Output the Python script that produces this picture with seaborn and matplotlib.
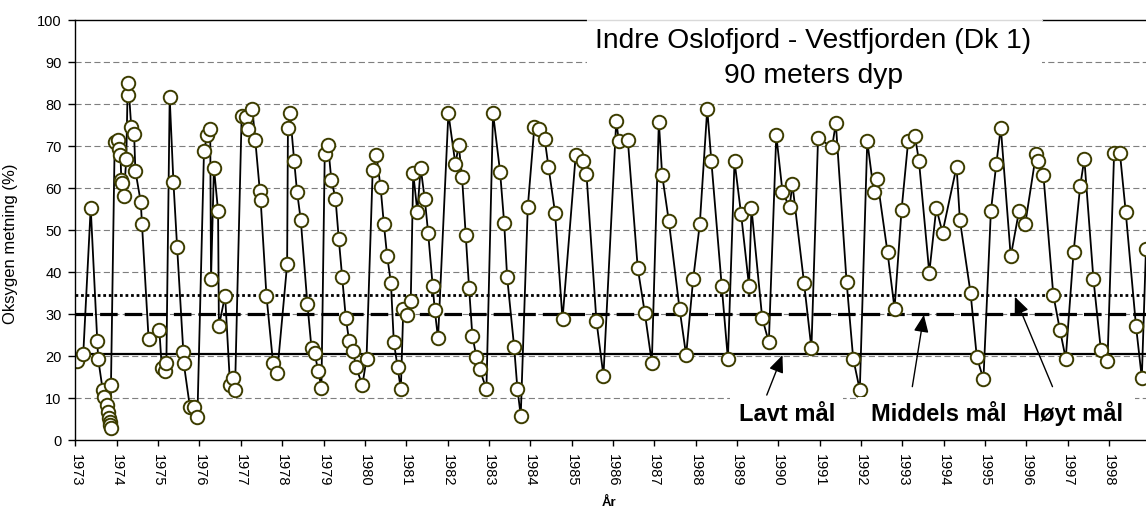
import matplotlib
matplotlib.use("Agg")
import matplotlib.pyplot as plt
import seaborn as sns
from matplotlib.patches import Rectangle

sns.set_style("white")
plt.rcParams['font.family'] = ['Liberation Sans', 'DejaVu Sans']
# plain black text like the original
plt.rcParams['text.color'] = 'black'
plt.rcParams['xtick.color'] = 'black'
plt.rcParams['ytick.color'] = 'black'
plt.rcParams['axes.labelcolor'] = 'black'

# sampling dates (decimal years) and oxygen saturation (%)
years = [
    1973.03, 1973.19, 1973.37, 1973.53, 1973.55, 1973.66, 1973.70, 1973.76, 1973.79, 1973.81,
    1973.83, 1973.84, 1973.85, 1973.86, 1973.95, 1974.02, 1974.05, 1974.09, 1974.11, 1974.13,
    1974.17, 1974.23, 1974.26, 1974.28, 1974.35, 1974.42, 1974.45, 1974.58, 1974.61, 1974.77,
    1975.03, 1975.09, 1975.17, 1975.20, 1975.28, 1975.37, 1975.46, 1975.61, 1975.62, 1975.77,
    1975.86, 1975.95, 1976.11, 1976.19, 1976.26, 1976.28, 1976.35, 1976.45, 1976.47, 1976.62,
    1976.74, 1976.82, 1976.86, 1977.02, 1977.12, 1977.18, 1977.28, 1977.35, 1977.46, 1977.48,
    1977.62, 1977.78, 1977.88, 1978.12, 1978.14, 1978.19, 1978.29, 1978.36, 1978.45, 1978.61,
    1978.71, 1978.79, 1978.87, 1978.95, 1979.03, 1979.11, 1979.19, 1979.29, 1979.37, 1979.45,
    1979.54, 1979.62, 1979.72, 1979.78, 1979.94, 1980.04, 1980.19, 1980.28, 1980.38, 1980.46,
    1980.54, 1980.63, 1980.70, 1980.79, 1980.87, 1980.93, 1981.02, 1981.11, 1981.17, 1981.27,
    1981.35, 1981.45, 1981.53, 1981.64, 1981.69, 1981.77, 1982.02, 1982.19, 1982.27, 1982.35,
    1982.44, 1982.52, 1982.60, 1982.70, 1982.78, 1982.94, 1983.10, 1983.27, 1983.37, 1983.44,
    1983.61, 1983.69, 1983.77, 1983.94, 1984.10, 1984.20, 1984.35, 1984.44, 1984.60, 1984.78,
    1985.10, 1985.27, 1985.36, 1985.60, 1985.77, 1986.08, 1986.14, 1986.36, 1986.60, 1986.77,
    1986.94, 1987.11, 1987.19, 1987.35, 1987.61, 1987.77, 1987.94, 1988.10, 1988.28, 1988.38,
    1988.63, 1988.78, 1988.94, 1989.10, 1989.29, 1989.35, 1989.61, 1989.77, 1989.95, 1990.10,
    1990.27, 1990.34, 1990.62, 1990.80, 1990.96, 1991.30, 1991.39, 1991.65, 1991.81, 1991.97,
    1992.15, 1992.31, 1992.39, 1992.64, 1992.81, 1992.98, 1993.14, 1993.30, 1993.40, 1993.65,
    1993.82, 1993.97, 1994.31, 1994.39, 1994.65, 1994.80, 1994.96, 1995.14, 1995.27, 1995.38,
    1995.62, 1995.82, 1995.97, 1996.23, 1996.27, 1996.41, 1996.65, 1996.81, 1996.95, 1997.14,
    1997.30, 1997.40, 1997.62, 1997.80, 1997.96, 1998.12, 1998.26, 1998.40, 1998.65, 1998.79,
    1998.89,
]
oxygen = [
    18.8, 20.5, 55.3, 23.5, 19.4, 11.9, 10.3, 8.3, 6.7, 5.2,
    4.3, 3.6, 2.8, 13.1, 71.0, 71.4, 69.4, 67.9, 61.9, 61.1,
    58.1, 66.8, 82.1, 84.9, 74.6, 72.8, 64.1, 56.7, 51.4, 24.1,
    26.2, 17.1, 16.4, 18.4, 81.6, 61.5, 45.9, 21.0, 18.3, 7.8,
    7.8, 5.4, 68.9, 72.6, 74.0, 38.3, 64.8, 54.6, 27.1, 34.4,
    13.1, 14.8, 11.9, 77.1, 76.8, 74.0, 78.7, 71.4, 59.4, 57.1,
    34.4, 18.3, 16.0, 41.8, 74.4, 77.9, 66.5, 59.1, 52.4, 32.4,
    21.8, 20.6, 16.4, 12.5, 68.0, 70.2, 61.9, 57.5, 47.8, 38.9,
    29.0, 23.6, 21.2, 17.5, 13.1, 19.3, 64.4, 67.9, 60.2, 51.4,
    43.7, 37.5, 23.4, 17.5, 12.1, 31.3, 29.8, 33.1, 63.5, 54.4,
    64.8, 57.3, 49.4, 36.7, 31.0, 24.2, 77.8, 65.7, 70.2, 62.7,
    48.8, 36.3, 24.8, 19.7, 16.8, 12.1, 77.8, 63.9, 51.6, 38.9,
    22.2, 12.1, 5.8, 55.4, 74.6, 74.0, 71.6, 65.1, 54.1, 28.7,
    67.9, 66.5, 63.3, 28.4, 15.3, 76.0, 71.3, 71.4, 40.9, 30.3,
    18.4, 75.8, 63.1, 52.2, 31.3, 20.2, 38.3, 51.4, 78.8, 66.4,
    36.7, 19.3, 66.4, 53.7, 36.7, 55.2, 29.0, 23.3, 72.6, 59.1,
    55.4, 60.9, 37.5, 21.8, 71.8, 69.8, 75.4, 37.7, 19.4, 11.9,
    71.2, 59.0, 62.2, 44.7, 31.3, 54.8, 71.2, 72.5, 66.5, 39.8,
    55.2, 49.4, 65.1, 52.4, 34.9, 19.7, 14.5, 54.5, 65.6, 74.4,
    43.7, 54.5, 51.4, 68.0, 66.4, 63.1, 34.5, 26.2, 19.4, 44.7,
    60.5, 66.9, 38.3, 21.4, 18.8, 68.3, 68.4, 54.4, 27.1, 14.8,
    45.4,
]

# target levels (low / middle / high)
goal_names = ["Lavt mål", "Middels mål", "Høyt mål"]
goal_values = [20.5, 30, 34.5]

year_ticks = list(range(1973, 1999))
y_ticks = list(range(0, 101, 10))

fig = plt.figure(figsize=(11.46, 5.13), dpi=100)
ax = fig.add_axes([0.0658, 0.1423, 0.9742, 0.8187])

# dashed horizontal grid
for v in y_ticks[1:-1]:
    ax.axhline(v, color="#7f7f7f", lw=0.8, ls=(0, (5.5, 3)), zorder=1)

# goal lines
ax.axhline(goal_values[0], color="black", lw=1.6, ls="-", zorder=1.5)
ax.axhline(goal_values[1], color="black", lw=2.3, ls=(0, (5.5, 2.2)), zorder=1.5)
ax.axhline(goal_values[2], color="black", lw=2.0, ls=(0, (1, 1)), zorder=1.5)

sns.lineplot(x=years, y=oxygen, estimator=None, sort=False, ax=ax,
             color="black", lw=1.3, marker="o", markersize=9.7,
             markerfacecolor="white", markeredgecolor="#3d3d00",
             markeredgewidth=1.4, zorder=2)

ax.set_xlim(1973, 2000)
ax.set_ylim(0, 100)
ax.set_xticks(year_ticks)
ax.set_xticklabels([str(y) for y in year_ticks], rotation=-90, fontsize=10.5)
ax.set_yticks(y_ticks)
ax.set_yticklabels([str(v) for v in y_ticks], fontsize=10.5)
ax.tick_params(axis="x", direction="out", length=4, width=1, pad=6, bottom=True)
ax.tick_params(axis="y", direction="out", length=5, width=1, pad=5, left=True)
for s in ["left", "bottom", "top"]:
    ax.spines[s].set_color("black")
    ax.spines[s].set_linewidth(1)
ax.set_xlabel("")
ax.set_ylabel("")

fig.text(11 / 1146, 1 - 244 / 513, "Oksygen metning (%)", rotation=90,
         ha="center", va="center", fontsize=12)
fig.text(609 / 1146, 1 - 503 / 513, "År", ha="center", va="center",
         fontsize=9.5, fontweight="bold")

# title box covering part of top
ax.add_patch(Rectangle((1985.37, 82), 11.0, 18.3, facecolor="white",
                       edgecolor="none", zorder=3, clip_on=False))
ax.plot([1985.37, 1996.37], [100, 100], color="#d9d9d9", lw=1, zorder=3.1, clip_on=False)
ax.text(1990.84, 93.3, "Indre Oslofjord - Vestfjorden (Dk 1)", ha="center",
        va="baseline", fontsize=20.3, zorder=4)
ax.text(1990.84, 85.0, "90 meters dyp", ha="center", va="baseline",
        fontsize=20.3, zorder=4)

# label boxes at the bottom
ax.add_patch(Rectangle((1988.83, 2.5), 2.73, 7.7, facecolor="white",
                       edgecolor="none", zorder=3))
ax.add_patch(Rectangle((1991.92, 2.5), 6.70, 7.7, facecolor="white",
                       edgecolor="none", zorder=3))

label_x = [1989.06, 1992.23, 1995.92]
for name, lx in zip(goal_names, label_x):
    ax.text(lx, 4.6, name, ha="left", va="baseline", fontsize=17,
            fontweight="bold", zorder=4)

arrow_tails = [(1989.72, 10.7), (1993.24, 12.7), (1996.63, 12.7)]
arrow_heads = [(1990.10, 20.2), (1993.52, 29.8), (1995.72, 34.1)]
for tail, head in zip(arrow_tails, arrow_heads):
    ax.annotate("", xy=head, xytext=tail, zorder=4,
                arrowprops=dict(arrowstyle="-|>,head_length=0.7,head_width=0.3",
                                color="black", lw=1, mutation_scale=15,
                                shrinkA=0, shrinkB=0))

fig.savefig("out.png", dpi=100)
